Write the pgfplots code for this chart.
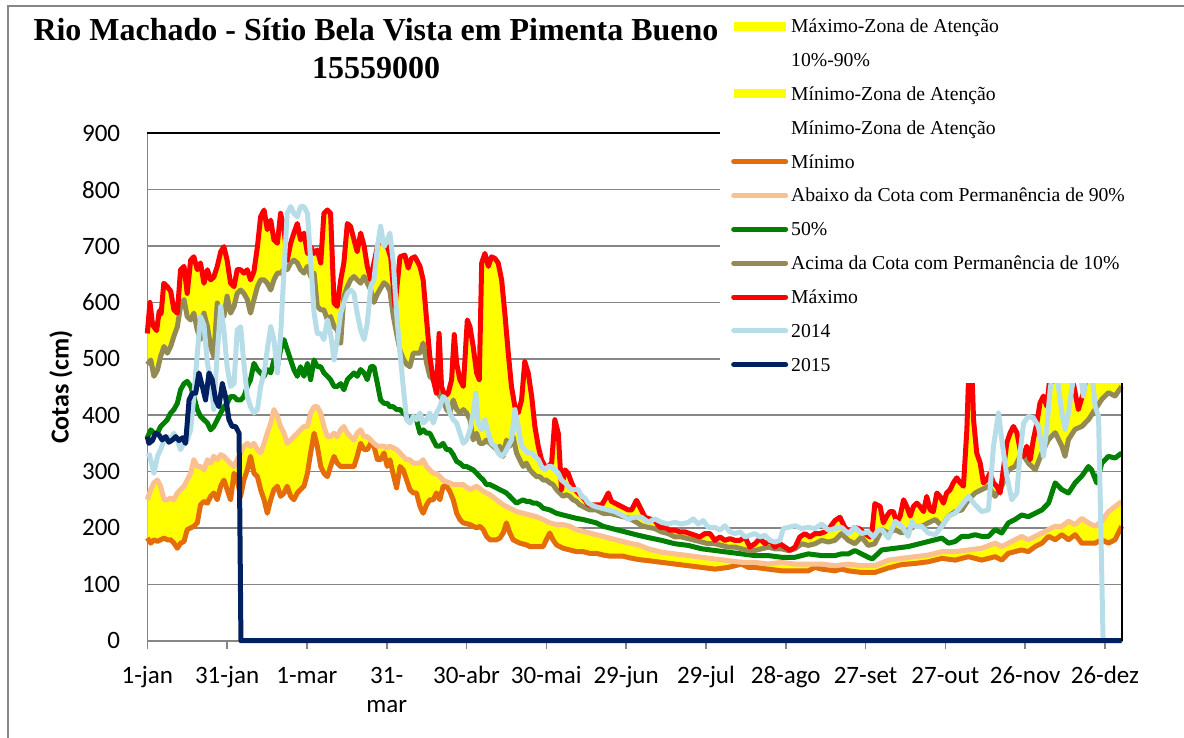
\documentclass[border=0pt]{standalone}
\usepackage{pgfplots}
\pgfplotsset{compat=1.18}
\usepackage{pgfplotstable}
\usepgfplotslibrary{fillbetween}
\usepackage{fontspec}
\setmainfont{Liberation Serif}
\newfontfamily\calibri{Carlito}

\definecolor{cRed}{RGB}{255,0,0}
\definecolor{cOlive}{RGB}{148,138,84}
\definecolor{cGreen}{RGB}{0,128,0}
\definecolor{cPeach}{RGB}{250,192,144}
\definecolor{cOrange}{RGB}{228,108,10}
\definecolor{cLBlue}{RGB}{183,222,232}
\definecolor{cNavy}{RGB}{0,32,96}
\definecolor{cYellow}{RGB}{255,255,0}
\definecolor{cGrid}{RGB}{134,134,134}

% Maximo
\pgfplotstableread{
d v
0 545
1 600
2 560
3.5 550
4.5 585
5.2 580
6.2 634
7.5 628
8.8 620
10 587
11.3 581
12.5 658
13.8 664
15 616
16.3 675
17.5 681
18.8 658
20 670
21.3 634
22.6 658
23.8 640
25 645
26.3 664
27.6 690
28.8 699
30 675
31.3 634
32.6 628
33.8 658
35.1 658
36.3 652
37.6 658
38.8 640
40.1 655
41.4 699
42.6 752
43.9 764
45.1 729
46.4 746
47.6 711
48.9 705
50.1 758
51.4 730
52.6 675
53.9 705
55.1 723
56.4 740
57.6 711
58.9 723
60.2 687
61.4 699
62.7 687
63.9 693
65.2 670
66.4 758
67.7 764
68.9 758
70.2 599
71.4 593
72.7 640
73.9 670
75.2 740
76.4 735
77.7 711
78.9 690
80.2 723
81.5 700
82.7 664
84 640
85.2 670
86.5 699
87.7 717
89 705
90.2 699
91.5 680
93.1 593
95 681
96.8 684
98.1 661
99.3 678
100.6 681
102.5 664
103.7 640
105 569
106.2 504
107.5 463
108.7 439
109.7 545
110.6 451
111.9 433
113.1 439
114.4 463
115.4 543
116.3 492
117.5 463
118.8 451
120.3 569
121.3 557
122.5 522
123.8 475
124.8 463
125.7 670
126.9 687
128.2 664
129.4 681
130.7 678
131.9 670
133.2 640
134.4 581
135.7 510
136.9 451
138.2 415
139.4 404
140.7 427
141.9 495
143.2 475
144.5 433
145.7 380
147 344
148.2 321
149.5 309
150.7 309
152 315
153.2 392
154.5 368
155.7 268
157 303
158.2 297
159.5 280
160.7 268
162 262
163.3 256
164.5 250
165.8 241
168.3 241
170.8 241
172 250
173.3 262
174.5 247
175.8 244
177 241
178.3 238
179.5 235
180.8 232
182.1 232
183.9 249
185.2 237
187.1 219
188.9 216
190.8 213
192.7 201
194.6 201
196.5 196
198.3 196
200.2 193
202.1 193
204 190
205.9 187
207.7 184
209.6 190
211.5 190
213.4 178
215.3 184
217.1 178
219 181
220.9 178
222.8 178
224.7 184
226.5 166
228.4 172
230.3 181
232.2 172
234.1 178
235.9 166
237.8 172
239.7 166
241.6 160
243.5 166
245.3 184
247.2 190
249.1 184
251 190
252.8 190
254.7 193
256.6 201
258.5 213
260.4 219
262.2 201
264.1 193
266 201
267.9 198
269.8 190
271.6 184
272.5 196
273.5 243
275.5 238
276.7 209
278 221
279.2 229
280.5 229
281.7 209
283 221
284.3 250
285.5 238
286.8 221
288 238
289.3 244
290.5 238
291.8 229
293 256
294.3 232
295.5 229
296.8 262
298 256
299.3 244
300.5 262
301.8 268
303 280
304.3 289
305.6 280
306.8 274
308.1 375
309.1 520
310 480
310.6 392
311.8 333
313.1 315
314.3 280
315.6 286
316.8 297
318.1 280
319.3 274
320.6 262
321.8 303
323.1 351
324.4 369
325.6 380
326.9 369
328.1 339
329.4 327
330.6 345
331.9 321
333.1 357
334.4 386
335.6 422
336.9 434
338.1 416
339.4 470
340.6 460
342 490
344 500
346 480
348 460
350 410
351.9 440
353 470
355 500
358 520
361 540
364 560
366.3 560
}\tmax

% Acima da cota 10%
\pgfplotstableread{
d v
0 490
1.3 498
2.5 469
3.8 480
5 504
6.3 522
7.5 510
8.8 522
10 540
11.3 557
12.5 593
13.8 605
15 575
16.3 569
17.5 581
18.8 551
20 534
21.3 581
22.6 557
23.8 522
25 504
26.3 599
27.6 581
28.8 575
30 611
31.3 581
32.6 593
33.8 616
35.1 622
36.3 616
37.6 605
38.8 581
40.1 605
41.4 628
42.6 640
43.9 640
45.1 634
46.4 622
47.6 640
48.9 652
50.1 652
51.4 658
52.6 658
53.9 670
55.1 675
56.4 670
57.6 658
58.9 652
60.2 664
61.4 646
62.7 652
63.9 593
65.2 587
66.4 587
67.7 569
68.9 575
70.2 557
71.4 551
72.7 528
73.9 611
75.2 628
76.4 640
77.7 646
78.9 640
80.2 634
81.5 646
82.7 634
84 622
85.2 600
86.5 615
87.7 625
89 635
90.2 630
91.2 620
92.5 575
93.7 545
95 515
96.2 500
97.5 490
98.7 486
100 510
101.2 510
102.5 510
103.7 528
105 492
106.2 469
107.5 463
108.7 451
110 433
111.2 427
112.5 410
113.7 404
115 427
116.3 410
117.5 404
118.8 410
120 404
121.3 392
122.5 356
123.8 368
125 350
126.3 350
127.5 356
128.8 350
130 345
131.3 339
132.5 345
133.8 327
135 356
136.3 345
137.5 362
138.8 333
140 321
141.3 309
142.5 315
143.8 303
145 297
146.3 291
147.5 291
148.8 285
150 285
151.3 280
152.5 277
153.8 268
155 262
156.3 256
157.5 259
158.8 256
160 250
161.3 247
162.5 241
163.8 238
165 235
166.3 232
168.8 232
171.3 226
173.8 226
176.3 223
178.8 220
181.3 217
183.9 210
185.8 204
188.3 201
190.8 199
193.3 193
195.8 190
198.3 184
200.8 184
203.4 181
205.9 178
208.4 175
210.9 172
213.4 172
215.9 169
218.4 166
220.9 166
223.4 163
225.9 160
228.4 160
230.9 163
233.4 166
235.9 163
238.4 163
240.9 160
243.5 163
246 172
248.5 169
251 172
253.5 178
256 175
258.5 178
261 190
263.5 178
266 172
268.5 184
271 169
273.5 172
274.2 179
276.1 197
278.6 191
281.1 197
283.6 191
286.1 197
288.6 203
291.1 203
293.6 209
296.2 215
298.7 203
301.2 221
303.7 229
306.2 232
308.7 250
311.2 262
313.7 268
316.2 274
318.7 256
321.2 274
323.7 303
326.2 309
328.7 333
331.2 315
333.8 303
336.3 333
338.8 357
341.3 369
343.8 345
345 327
346.3 357
348.8 375
351.3 380
353.8 392
356.3 410
358.8 428
361.3 440
363.8 434
366.3 451
}\tpten

% 50%
\pgfplotstableread{
d v
0 360
1.3 374
2.5 368
3.8 368
5 380
6.3 386
7.5 392
8.8 404
10 410
11.3 421
12.5 445
13.8 456
15 460
16.3 451
17.5 433
18.8 410
20 398
21.3 392
22.6 386
23.8 374
25 380
26.3 392
27.6 404
28.8 415
30 421
31.3 433
32.6 433
33.8 427
35.1 427
36.3 433
37.6 451
38.8 463
40.1 492
41.4 481
42.6 475
43.9 469
45.1 481
46.4 475
47.6 498
48.9 486
50.1 516
51.4 534
52.6 516
53.9 498
55.1 481
56.4 469
57.6 486
58.9 469
60.2 492
61.4 463
62.7 498
63.9 486
65.2 486
66.4 475
67.7 469
68.9 463
70.2 451
71.4 451
72.7 456
73.9 445
75.2 463
76.4 469
77.7 475
78.9 469
80.2 481
81.5 475
82.7 463
84 486
85.2 486
86.5 456
87.7 427
89 421
90.2 421
91.2 415
92.5 415
93.7 410
95 410
96.2 404
97.5 398
98.7 392
100 398
101.2 392
102.5 368
103.7 374
105 368
106.2 368
107.5 356
108.7 345
110 345
111.2 350
112.5 339
113.7 339
115 330
116.3 318
117.5 315
118.8 309
120 309
121.3 306
122.5 303
123.8 297
125 291
126.3 285
127.5 277
128.8 277
130 274
131.3 271
132.5 268
133.8 265
135 262
136.3 256
137.5 250
138.8 244
140 247
141.3 250
142.5 247
143.8 247
145 244
146.3 244
147.5 241
148.8 235
151.3 232
153.8 226
156.3 223
158.8 220
161.3 217
163.8 215
166.3 212
168.8 209
171.3 203
173.8 200
176.3 197
178.8 194
181.3 191
184.6 187
188.3 183
193.3 178
198.3 172
203.4 169
208.4 163
213.4 160
218.4 157
223.4 154
228.4 151
233.4 151
238.4 148
243.5 148
246 151
248.5 154
253.5 151
258.5 151
261 154
263.5 154
266 160
268.5 154
271 148
272.5 145
274.8 155
276.1 161
281.1 164
286.1 167
291.1 173
296.2 179
298.7 182
301.2 173
303.7 176
306.2 185
308.7 185
311.2 188
313.7 185
316.2 185
318.7 197
321.2 191
323.7 209
326.2 215
328.7 223
331.2 220
333.8 226
336.3 232
338.8 244
341.3 280
343.8 268
346.3 262
348.8 280
351.3 292
353.8 309
355 303
356.9 280
358.8 315
361.3 327
363.8 324
366.3 333
}\tmed

% Abaixo da cota 90%
\pgfplotstableread{
d v
0 250
1.3 268
2.5 280
3.8 285
5 274
6.3 250
7.5 250
8.8 253
10 250
11.3 262
12.5 268
13.8 274
15 285
16.3 297
17.5 321
18.8 309
20 309
21.3 303
22.6 321
23.8 315
25 327
26.3 321
27.6 330
28.8 327
30 321
31.3 315
32.6 309
33.8 321
35.1 333
36.3 345
37.6 350
38.8 345
40.1 350
41.4 339
42.6 333
43.9 350
45.1 368
46.4 386
47.6 410
48.9 398
50.1 380
51.4 368
52.6 350
53.9 356
55.1 362
56.4 368
57.6 374
58.9 380
60.2 380
61.4 404
62.7 415
63.9 415
65.2 404
66.4 380
67.7 362
68.9 362
70.2 368
71.4 362
72.7 374
73.9 380
75.2 368
76.4 362
77.7 356
78.9 368
80.2 374
81.5 362
82.7 362
84 356
85.2 350
86.5 345
87.7 345
89 345
90.2 342
91.2 345
93.7 339
95 333
96.2 327
97.5 321
98.7 321
100 315
102.5 315
103.7 321
105 309
106.2 303
107.5 297
108.7 297
110 291
111.2 285
112.5 282
113.7 280
115 277
118.8 277
121.3 268
123.8 274
126.3 265
128.8 259
131.3 250
133.8 241
136.3 235
138.8 229
141.3 226
143.8 223
146.3 220
148.8 215
151.3 209
153.8 206
156.3 206
158.8 203
161.3 197
163.8 194
166.3 191
168.8 188
171.3 185
173.8 182
176.3 179
178.8 176
181.3 173
184.6 170
188.3 163
193.3 157
198.3 154
203.4 151
208.4 148
213.4 145
218.4 142
223.4 139
228.4 139
233.4 136
238.4 139
243.5 136
248.5 136
253.5 136
258.5 133
263.5 136
268.5 133
273.5 133
278.6 143
283.6 146
288.6 149
293.6 152
298.7 158
303.7 158
308.7 161
313.7 164
318.7 173
321.2 167
323.7 173
326.2 179
328.7 185
331.2 179
333.8 185
336.3 191
338.8 197
341.3 203
343.8 203
346.3 212
348.8 206
351.3 217
353.8 209
356.3 203
358.8 212
361.3 229
363.8 238
366.3 247
}\tpninety

% Minimo
\pgfplotstableread{
d v
0 182
1.3 173
2.5 179
3.8 176
5 179
6.3 182
7.5 179
8.8 179
10 173
11.3 164
12.5 173
13.8 176
15 197
16.3 200
17.5 203
18.8 209
20 241
21.3 247
22.6 244
23.8 256
25 262
26.3 250
27.6 274
28.8 285
30 268
31.3 250
32.6 297
33.8 285
35.1 256
36.3 285
37.6 303
38.8 327
40.1 297
41.4 291
42.6 268
43.9 250
45.1 226
46.4 250
47.6 268
48.9 274
50.1 256
51.4 262
52.6 274
53.9 256
55.1 250
56.4 262
57.6 268
58.9 274
60.2 297
61.4 333
62.7 368
63.9 345
65.2 309
66.4 297
67.7 291
68.9 309
70.2 327
71.4 315
72.7 309
73.9 309
75.2 309
76.4 309
77.7 309
78.9 327
80.2 350
81.5 339
82.7 339
84 350
85.2 345
86.5 321
87.7 321
89 333
90.2 309
91.2 321
92.2 300
93.7 271
95 309
96.2 303
97.5 285
98.7 268
100 262
101.2 262
102.5 238
103.7 226
105 241
106.2 250
107.5 250
108.7 262
110 250
111.2 274
112.5 274
113.7 265
115 250
116.3 226
117.5 215
118.8 209
121.3 206
122.5 203
123.8 200
125 203
126.3 197
127.5 185
128.8 179
131.3 179
132.5 182
133.8 191
135 209
136.3 191
137.5 179
138.8 176
140 173
142.5 170
143.8 167
148.8 167
150 179
151.3 191
152.5 179
153.8 170
155 167
156.3 164
158.8 161
161.3 158
163.8 158
166.3 155
168.8 155
171.3 152
173.8 150
178.8 150
181.3 147
184.6 144
188.3 142
193.3 139
198.3 136
203.4 133
208.4 130
213.4 127
218.4 130
223.4 136
225.9 130
228.4 130
233.4 127
238.4 124
248.5 124
251 130
253.5 127
258.5 124
261 127
263.5 124
268.5 121
273.5 121
278.6 129
283.6 135
288.6 137
293.6 140
298.7 146
303.7 143
308.7 149
313.7 143
318.7 149
321.2 143
323.7 155
326.2 158
328.7 161
331.2 158
333.8 167
336.3 173
338.8 185
341.3 179
343.8 188
346.3 179
348.8 188
351.3 173
353.8 173
356.3 173
358.8 179
361.3 173
363.8 179
366.3 203
}\tmin

% 2014
\pgfplotstableread{
d v
0 327
0.8 330
2.5 297
3.8 327
5 339
6.3 356
7.5 362
8.8 356
10 368
11.3 356
12.5 339
13.8 350
15 356
16.3 374
17.5 433
18.8 510
20 575
21.3 560
22.6 492
23.8 463
25 410
26.3 510
27.6 593
28.8 551
30 486
31.3 451
32.6 456
33.8 551
35.1 557
36.3 492
37.6 433
38.8 415
40.1 404
41.4 410
42.6 451
43.9 475
45.1 516
46.4 557
47.6 534
48.9 475
50.1 540
51.4 658
52.6 758
53.9 770
55.1 758
56.4 752
57.6 770
58.9 770
60.2 758
61.4 675
62.7 581
63.9 545
65.2 545
66.4 534
67.7 569
68.9 545
70.2 498
71.4 534
72.7 581
73.9 599
75.2 616
76.4 622
77.7 616
78.9 581
80.2 551
81.5 534
82.7 563
84 628
85.2 640
86.5 699
87.7 735
89 699
90.2 710
91.2 723
92.5 670
93.7 581
95 510
96.2 451
97.5 392
98.7 386
100 398
101.2 392
102.5 404
103.7 386
105 392
106.2 404
107.5 386
108.7 404
110 415
111.2 433
112.5 427
113.7 404
115 392
116.3 386
117.5 368
118.8 350
120 356
121.3 374
122.5 404
123.5 439
124.4 386
125.7 374
126.9 392
128.2 368
129.4 350
130.7 345
131.9 333
133.2 327
134.4 333
135.7 345
136.9 356
138.2 410
139.4 380
140.7 345
141.9 339
143.2 333
144.5 333
145.7 327
147 321
148.2 309
149.5 303
150.7 309
152 309
153.2 303
154.5 297
155.7 285
157 280
158.2 274
159.5 268
162 268
163.3 256
164.5 253
165.8 244
167 241
168.3 238
170.8 235
173.3 232
175.8 229
177 226
178.3 223
179.5 220
180.8 215
182.1 218
183.3 219
185.8 219
188.3 210
190.8 216
193.3 210
195.8 207
198.3 210
200.8 207
203.4 210
205.2 216
207.1 207
209 213
210.9 201
213.4 201
215.3 196
217.1 204
219 193
220.9 190
222.8 193
224.7 184
226.5 187
228.4 190
230.3 184
232.2 187
234.1 178
235.9 175
237.8 178
239.1 199
241 201
243.5 204
246 199
248.5 201
251 199
253.5 207
256 196
258.5 199
261 201
263.5 190
266 201
268.5 190
271 193
272.9 184
274.8 196
276.1 197
278.6 182
281.1 212
283.6 203
286.1 185
287.4 212
288.6 203
291.1 203
293.6 191
296.2 188
298.7 203
301.2 221
303.7 226
306.2 241
308.7 256
311.2 241
313.7 229
316.2 232
318.1 345
320 404
321.2 357
323.1 292
325 250
326.9 262
328.1 333
329.4 386
331.2 398
333.1 395
335 380
336.9 327
338.1 375
339.4 446
340.5 480
342 470
343.8 404
345 375
346.3 404
347.5 446
348.8 480
350.6 480
351.9 434
353.1 480
355 480
356.3 416
357.6 398
359.3 0
366.3 0
}\tyrA

% 2015
\pgfplotstableread{
d v
0 362
0.6 350
1.9 355
3.1 368
4.4 365
5.6 356
6.9 362
8.1 352
9.4 356
10.7 362
11.9 355
13.2 360
14.4 350
15.7 427
16.9 439
18.2 439
19.4 475
20.7 451
21.9 427
23.2 475
24.4 463
25.7 427
26.9 415
28.2 456
29.4 433
30.7 392
31.9 380
33.2 380
34.5 368
35.2 0
366.3 0
}\tyrB

\pgfplotsset{
  legrect/.style={legend image code/.code={\path[draw=none,fill=none] (0pt,-5pt) rectangle (57pt,5pt); \path[draw=none,fill=cYellow] (3pt,-4.5pt) rectangle (55pt,4.5pt);}},
  legnone/.style={legend image code/.code={\path[draw=none,fill=none] (0pt,-5pt) rectangle (57pt,5pt);}},
  legline/.style={legend image code/.code={\path[draw=none,fill=none] (0pt,-5pt) rectangle (57pt,5pt); \path[draw=#1,fill=none,line width=5pt,line cap=round] (2.5pt,0pt) -- (54.5pt,0pt);}},
  serie/.style={#1, line width=5pt, line join=round, forget plot},
}

\begin{document}
\begin{tikzpicture}[x=1pt,y=1pt]
\node[anchor=base, font=\bfseries\fontsize{32}{32}\selectfont] at (376,696) {Rio Machado - Sítio Bela Vista em Pimenta Bueno};
\node[anchor=base, font=\bfseries\fontsize{32}{32}\selectfont] at (376,658) {15559000};
\begin{axis}[
  at={(147.3pt,96.3pt)}, anchor=south west,
  width=974.4pt, height=507.4pt, scale only axis,
  xmin=0, xmax=366.3, ymin=0, ymax=900,
  clip=false,
  xtick={0,30,...,360},
  xticklabels={1-jan,31-jan,1-mar,{\begin{tabular}[t]{@{}c@{}}31-\\mar\end{tabular}},30-abr,30-mai,29-jun,29-jul,28-ago,27-set,27-out,26-nov,26-dez},
  ytick={0,100,...,900},
  ymajorgrids, grid style={cGrid, line width=1.6pt},
  axis line style={cGrid, line width=1.6pt},
  tick align=outside, major tick length=8pt,
  xtick style={cGrid, line width=1.6pt},
  ytick style={draw=none},
  tick pos=left,
  /pgf/number format/assume math mode=true,
  yticklabel style={font=\calibri\fontsize{25}{25}\selectfont, anchor=east, inner sep=0pt, xshift=-19pt},
  xticklabel style={font=\calibri\fontsize{25}{29}\selectfont, anchor=base, inner sep=0pt, yshift=-35pt},
  ylabel={Cotas (cm)},
  ylabel style={font=\calibri\bfseries\fontsize{26}{26}\selectfont, at={(axis description cs:-0.0886,0.5)}, anchor=center},
  legend style={at={(0.5990,1.2302)}, anchor=north west, draw=none, fill=none, inner sep=0pt,
    row sep=14.85pt, column sep=3pt, font=\fontsize{19.7}{20}\selectfont,
    nodes={inner sep=0pt, text height=16pt, text depth=3pt, anchor=west}},
  legend cell align=left,
]
\addplot[draw=none, name path=pmax, forget plot] table[x=d,y=v] {\tmax};
\addplot[draw=none, name path=pten, forget plot] table[x=d,y=v] {\tpten};
\addplot[draw=none, name path=pninety, forget plot] table[x=d,y=v] {\tpninety};
\addplot[draw=none, name path=pmin, forget plot] table[x=d,y=v] {\tmin};
\addplot[fill=cYellow, draw=none, forget plot] fill between[of=pmax and pten];
\addplot[fill=cYellow, draw=none, forget plot] fill between[of=pninety and pmin];

\addplot[serie=cOrange] table[x=d,y=v] {\tmin};
\addplot[serie=cPeach] table[x=d,y=v] {\tpninety};
\addplot[serie=cGreen] table[x=d,y=v] {\tmed};
\addplot[serie=cOlive] table[x=d,y=v] {\tpten};
\addplot[serie=cRed] table[x=d,y=v] {\tmax};
\addplot[serie=cLBlue] table[x=d,y=v] {\tyrA};
\addplot[serie=cNavy] table[x=d,y=v] {\tyrB};

\draw[black, line width=2pt] (rel axis cs:0,1) -- (rel axis cs:1,1) -- (rel axis cs:1,0);
\fill[white] (rel axis cs:0.5877,1.30) rectangle (rel axis cs:1.10,0.5073);

\addlegendimage{legrect}\addlegendentry{Máximo-Zona de Atenção}
\addlegendimage{legnone}\addlegendentry{10\%-90\%}
\addlegendimage{legrect}\addlegendentry{Mínimo-Zona de Atenção}
\addlegendimage{legnone}\addlegendentry{Mínimo-Zona de Atenção}
\addlegendimage{legline=cOrange}\addlegendentry{Mínimo}
\addlegendimage{legline=cPeach}\addlegendentry{Abaixo da Cota com Permanência de 90\%}
\addlegendimage{legline=cGreen}\addlegendentry{50\%}
\addlegendimage{legline=cOlive}\addlegendentry{Acima da Cota com Permanência de 10\%}
\addlegendimage{legline=cRed}\addlegendentry{Máximo}
\addlegendimage{legline=cLBlue}\addlegendentry{2014}
\addlegendimage{legline=cNavy}\addlegendentry{2015}
\end{axis}
\draw[cGrid, line width=1.5pt] (8,-20) -- (8,731) -- (1220,731);
\pgfresetboundingbox
\useasboundingbox (0,0) rectangle (1184,737);
\end{tikzpicture}
\end{document}
